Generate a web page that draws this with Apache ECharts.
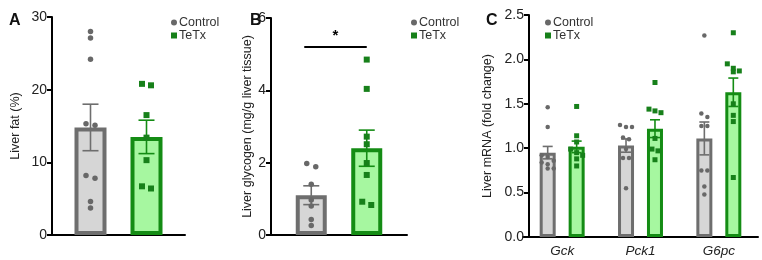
<!DOCTYPE html>
<html>
<head>
<meta charset="utf-8">
<script src="https://cdn.jsdelivr.net/npm/echarts@6/dist/echarts.min.js"></script>
<style>
  html, body { margin: 0; padding: 0; background: #fff; }
  #chart { width: 762px; height: 260px; }
</style>
</head>
<body>
<div id="chart"></div>
<script>
// A: liver fat (%)
const fatControl = [28.0, 27.1, 24.2, 15.3, 15.1, 8.2, 7.8, 4.6, 3.7];
const fatTeTx = [20.8, 20.6, 16.5, 13.4, 10.3, 6.7, 6.4];
const fatMean = [14.8, 13.5];
const fatSem = [3.2, 2.3];

// B: liver glycogen (mg/g liver tissue)
const glyControl = [1.98, 1.89, 1.40, 0.97, 0.80, 0.43, 0.26];
const glyTeTx = [4.85, 4.04, 2.72, 2.51, 1.99, 1.66, 0.92, 0.83];
const glyMean = [1.1, 2.4];
const glySem = [0.26, 0.5];
const glySig = [5.2];

// C: liver mRNA (fold change)
const genes = ['Gck', 'Pck1', 'G6pc'];
const mrnaControl = [
  [1.46, 1.24, 0.92, 0.90, 0.86, 0.84, 0.82, 0.77, 0.77],
  [1.26, 1.24, 1.24, 1.12, 1.10, 0.99, 0.89, 0.89, 0.55],
  [2.27, 1.39, 1.35, 1.25, 1.25, 0.75, 0.75, 0.57, 0.48]
];
const mrnaTeTx = [
  [1.47, 1.14, 1.07, 0.99, 0.95, 0.92, 0.88, 0.80],
  [1.74, 1.44, 1.42, 1.40, 1.11, 0.99, 0.97, 0.87],
  [2.30, 1.95, 1.90, 1.87, 1.86, 1.50, 1.37, 1.30, 0.67]
];
const mrnaMeanControl = [0.95, 1.03, 1.11];
const mrnaMeanTeTx = [1.015, 1.22, 1.63];
const mrnaSemControl = [0.07, 0.075, 0.185];
const mrnaSemTeTx = [0.065, 0.1, 0.16];

const FONT = 'Liberation Sans, Arial, sans-serif';
const GREY = '#6e6e6e';
const GREY_FILL = '#d6d6d6';
const GREEN = '#148c14';
const GREEN_FILL = '#a6f7a0';
const DOT_GREY = '#686868';
const DOT_GREEN = '#17801a';

const chart = echarts.init(document.getElementById('chart'));

// per panel look
const panels = [
  { barWidth: 32, barGap: 0.75, border: 4, cap: 16, dot: 5.5, step: 9, maxRow: 2 },
  { barWidth: 31, barGap: 0.79, border: 4, cap: 16, dot: 5.5, step: 9, maxRow: 2 },
  { barWidth: 16, barGap: 0.81, border: 3, cap: 10, dot: 4.5, step: 6, maxRow: 3 }
];

function barOffset(p) {
  const cfg = panels[p];
  return (cfg.barWidth + cfg.barWidth * cfg.barGap) / 2;
}

function jitter(values, idx, yOf, size, step, maxRow) {
  const order = values.map((v, i) => ({ i, y: yOf(v) })).sort((a, b) => a.y - b.y);
  const clusters = [];
  let cur = [];
  order.forEach(o => {
    if (cur.length && o.y - cur[cur.length - 1].y < size && cur.length < maxRow) {
      cur.push(o);
    } else {
      if (cur.length) clusters.push(cur);
      cur = [o];
    }
  });
  if (cur.length) clusters.push(cur);
  for (const cl of clusters) {
    const pos = cl.findIndex(o => o.i === idx);
    if (pos >= 0) return (pos - (cl.length - 1) / 2) * step;
  }
  return 0;
}

function barSeries(p, name, means) {
  const control = name === 'Control';
  return {
    name: name,
    type: 'bar',
    xAxisIndex: p,
    yAxisIndex: p,
    data: means,
    barWidth: panels[p].barWidth,
    barGap: (panels[p].barGap * 100) + '%',
    z: 2,
    itemStyle: {
      color: control ? GREY_FILL : GREEN_FILL,
      borderColor: control ? GREY : GREEN,
      borderWidth: panels[p].border
    },
    emphasis: { disabled: true }
  };
}

function errorSeries(p, name, means, sems) {
  const g = name === 'Control' ? 0 : 1;
  const color = g === 0 ? GREY : GREEN;
  return {
    name: name,
    type: 'custom',
    xAxisIndex: p,
    yAxisIndex: p,
    z: 3,
    silent: true,
    data: means.map((m, i) => [i, m, sems[i]]),
    renderItem: function (params, api) {
      const c = api.value(0), m = api.value(1), s = api.value(2);
      const base = api.coord([c, m]);
      const x = base[0] + (g === 0 ? -1 : 1) * barOffset(p);
      const top = api.coord([c, m + s])[1];
      const bot = api.coord([c, m - s])[1];
      const hw = panels[p].cap / 2;
      const st = { stroke: color, lineWidth: 1.6 };
      return {
        type: 'group',
        children: [
          { type: 'line', shape: { x1: x, y1: top, x2: x, y2: bot }, style: st },
          { type: 'line', shape: { x1: x - hw, y1: top, x2: x + hw, y2: top }, style: st },
          { type: 'line', shape: { x1: x - hw, y1: bot, x2: x + hw, y2: bot }, style: st }
        ]
      };
    }
  };
}

function dotSeries(p, name, groups) {
  const g = name === 'Control' ? 0 : 1;
  const data = [];
  groups.forEach((vals, c) => vals.forEach((v, k) => data.push([c, v, k])));
  const cfg = panels[p];
  return {
    name: name,
    type: 'custom',
    xAxisIndex: p,
    yAxisIndex: p,
    z: 4,
    data: data,
    renderItem: function (params, api) {
      const c = api.value(0), v = api.value(1), k = api.value(2);
      const pt = api.coord([c, v]);
      const dx = jitter(groups[c], k, val => api.coord([c, val])[1], cfg.dot, cfg.step, cfg.maxRow);
      const x = pt[0] + (g === 0 ? -1 : 1) * barOffset(p) + dx;
      const y = pt[1];
      if (g === 0) {
        return { type: 'circle', shape: { cx: x, cy: y, r: cfg.dot / 2 }, style: { fill: DOT_GREY } };
      }
      const s = cfg.dot + 0.5;
      return { type: 'rect', shape: { x: x - s / 2, y: y - s / 2, width: s, height: s }, style: { fill: DOT_GREEN } };
    }
  };
}

function yAxis(p, min, max, interval, name, gap, offset, digits) {
  return {
    gridIndex: p,
    type: 'value',
    min: min,
    max: max,
    interval: interval,
    offset: offset,
    name: name,
    nameLocation: 'middle',
    nameRotate: 90,
    nameGap: gap,
    nameTextStyle: { fontFamily: FONT, fontSize: 12.5, color: '#222' },
    axisLine: { show: true, lineStyle: { color: '#000', width: 2 } },
    axisTick: { show: true, length: 5, lineStyle: { color: '#000', width: 2 } },
    axisLabel: {
      fontFamily: FONT, fontSize: 14, color: '#222', margin: 5,
      formatter: v => v.toFixed(digits)
    },
    splitLine: { show: false }
  };
}

function xAxis(p, cats, showLabels) {
  return {
    gridIndex: p,
    type: 'category',
    data: cats,
    axisLine: { show: true, onZero: false, lineStyle: { color: '#000', width: 2 } },
    axisTick: { show: false },
    axisLabel: {
      show: showLabels, fontFamily: FONT, fontSize: 13.5, fontStyle: 'italic',
      color: '#222', margin: 7
    }
  };
}

function legend(left) {
  return {
    left: left,
    top: 11,
    orient: 'vertical',
    itemWidth: 6,
    itemHeight: 6,
    itemGap: 0,
    selectedMode: false,
    textStyle: { fontFamily: FONT, fontSize: 12.5, color: '#333', padding: [0, 0, 0, -3] },
    data: [
      { name: 'Control', icon: 'circle', itemStyle: { color: DOT_GREY, borderWidth: 0 } },
      { name: 'TeTx', icon: 'rect', itemStyle: { color: DOT_GREEN, borderWidth: 0 } }
    ]
  };
}

const panelTitle = (text, left) => ({
  text: text, left: left, top: 8,
  textStyle: { fontFamily: FONT, fontSize: 16, fontWeight: 'bold', color: '#111' }
});

// significance bar for panel B
const sigSeries = {
  type: 'custom',
  xAxisIndex: 1,
  yAxisIndex: 1,
  silent: true,
  z: 5,
  data: glySig.map(v => [0, v]),
  renderItem: function (params, api) {
    const pt = api.coord([api.value(0), api.value(1)]);
    const off = barOffset(1);
    const x1 = pt[0] - off - 7, x2 = pt[0] + off;
    return {
      type: 'group',
      children: [
        { type: 'line', shape: { x1: x1, y1: pt[1], x2: x2, y2: pt[1] }, style: { stroke: '#000', lineWidth: 2 } },
        { type: 'text', style: { text: '*', x: (x1 + x2) / 2, y: pt[1] - 4, align: 'center', verticalAlign: 'bottom',
          font: 'bold 15px ' + FONT, fill: '#000' } }
      ]
    };
  }
};

chart.setOption({
  animation: false,
  title: [panelTitle('A', 4), panelTitle('B', 245), panelTitle('C', 481)],
  legend: [legend(166), legend(406), legend(540)],
  grid: [
    { left: 52, top: 17, width: 133, height: 218 },
    { left: 271, top: 18, width: 136, height: 217 },
    { left: 523, top: 15, width: 235, height: 222 }
  ],
  xAxis: [xAxis(0, [''], false), xAxis(1, [''], false), xAxis(2, genes, true)],
  yAxis: [
    yAxis(0, 0, 30, 10, 'Liver fat (%)', 30, 0, 0),
    yAxis(1, 0, 6, 2, 'Liver glycogen (mg/g liver tissue)', 13, 0, 0),
    yAxis(2, 0, 2.5, 0.5, 'Liver mRNA (fold change)', 35, -6, 1)
  ],
  series: [
    barSeries(0, 'Control', [fatMean[0]]),
    barSeries(0, 'TeTx', [fatMean[1]]),
    errorSeries(0, 'Control', [fatMean[0]], [fatSem[0]]),
    errorSeries(0, 'TeTx', [fatMean[1]], [fatSem[1]]),
    dotSeries(0, 'Control', [fatControl]),
    dotSeries(0, 'TeTx', [fatTeTx]),

    barSeries(1, 'Control', [glyMean[0]]),
    barSeries(1, 'TeTx', [glyMean[1]]),
    errorSeries(1, 'Control', [glyMean[0]], [glySem[0]]),
    errorSeries(1, 'TeTx', [glyMean[1]], [glySem[1]]),
    dotSeries(1, 'Control', [glyControl]),
    dotSeries(1, 'TeTx', [glyTeTx]),
    sigSeries,

    barSeries(2, 'Control', mrnaMeanControl),
    barSeries(2, 'TeTx', mrnaMeanTeTx),
    errorSeries(2, 'Control', mrnaMeanControl, mrnaSemControl),
    errorSeries(2, 'TeTx', mrnaMeanTeTx, mrnaSemTeTx),
    dotSeries(2, 'Control', mrnaControl),
    dotSeries(2, 'TeTx', mrnaTeTx)
  ]
});
</script>
</body>
</html>
